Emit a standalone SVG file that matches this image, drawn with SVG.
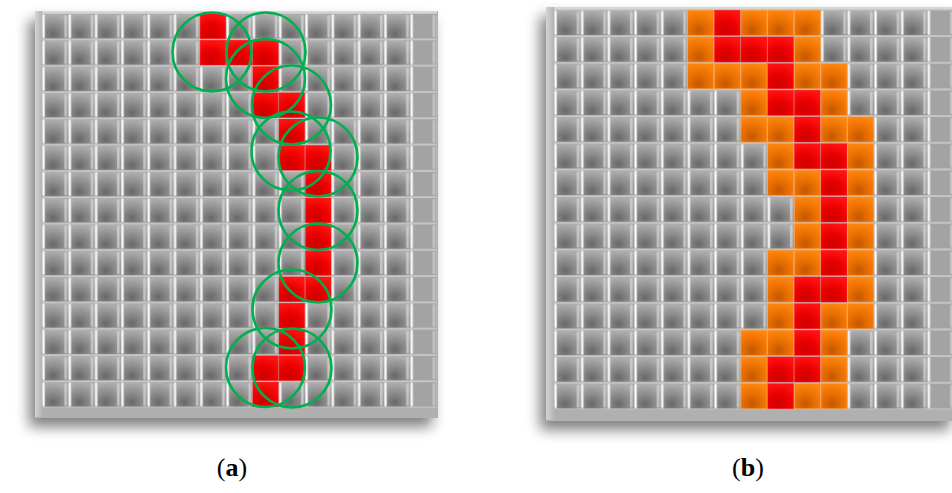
<svg xmlns="http://www.w3.org/2000/svg" xmlns:xlink="http://www.w3.org/1999/xlink" width="952" height="493" viewBox="0 0 952 493">
<style>
.lbl{font-family:"Liberation Serif","DejaVu Serif",serif;font-size:26px;fill:#000;text-anchor:middle}
.circ{fill:none;stroke:#00b050;stroke-width:2.6}
.rc{fill:url(#gRed);stroke:#ff4a4a;stroke-width:2;stroke-opacity:.5}
.oc{fill:url(#gOr);stroke:#ffa656;stroke-width:3;stroke-opacity:.8}
</style>
<defs>
<radialGradient id="face" cx="0.42" cy="0.82" r="0.78">
<stop offset="0" stop-color="#686868"/><stop offset="0.45" stop-color="#888888"/><stop offset="1" stop-color="#acacac"/>
</radialGradient>
<linearGradient id="hl" x1="0" y1="0" x2="1" y2="0">
<stop offset="0" stop-color="#e6e6e6"/><stop offset="0.45" stop-color="#ffffff"/><stop offset="1" stop-color="#bdbdbd"/>
</linearGradient>
<radialGradient id="gRed" cx="0.42" cy="0.8" r="0.8">
<stop offset="0" stop-color="#cf0000"/><stop offset="0.5" stop-color="#ea0000"/><stop offset="1" stop-color="#ff1212"/>
</radialGradient>
<radialGradient id="gOr" cx="0.42" cy="0.8" r="0.8">
<stop offset="0" stop-color="#c45800"/><stop offset="0.5" stop-color="#ea6f00"/><stop offset="1" stop-color="#ff8510"/>
</radialGradient>
<linearGradient id="sideL" x1="0" y1="0" x2="1" y2="0">
<stop offset="0" stop-color="#d4d4d4"/><stop offset="1" stop-color="#b0b0b0"/>
</linearGradient>
<pattern id="patA" patternUnits="userSpaceOnUse" width="100" height="100" patternTransform="translate(42 13) scale(0.263)">
<rect width="100" height="100" fill="#c8c8c8"/>
<rect x="0" y="4" width="100" height="93" fill="url(#face)"/>
<rect x="85" y="7" width="10" height="87" rx="5" fill="#d2d2d2" opacity="0.75"/>
<rect x="1" y="5" width="11" height="91" rx="5.5" fill="url(#hl)"/>
</pattern>
<pattern id="patB" xlink:href="#patA" href="#patA" patternTransform="translate(554 9.33) scale(0.26667)"/>
<pattern id="flatA" patternUnits="userSpaceOnUse" width="100" height="100" patternTransform="translate(42 13) scale(0.263)">
<rect width="100" height="100" fill="#c8c8c8"/>
<rect x="0" y="4" width="100" height="93" fill="#a3a3a3"/>
<rect x="85" y="7" width="10" height="87" rx="5" fill="#cfcfcf" opacity="0.75"/>
<rect x="1" y="5" width="11" height="91" rx="5.5" fill="url(#hl)"/>
</pattern>
<pattern id="flatB" xlink:href="#flatA" href="#flatA" patternTransform="translate(554 9.33) scale(0.26667)"/>
<filter id="sh" x="-10%" y="-10%" width="125%" height="130%">
<feGaussianBlur in="SourceAlpha" stdDeviation="7"/>
<feOffset dx="-6" dy="9" result="b"/>
<feComponentTransfer><feFuncA type="linear" slope="0.5"/></feComponentTransfer>
<feMerge><feMergeNode/><feMergeNode in="SourceGraphic"/></feMerge>
</filter>
<rect id="r" x="1" y="3" width="98" height="95" class="rc"/>
<rect id="o" x="1" y="3" width="98" height="95" class="oc"/>
</defs>
<rect width="952" height="493" fill="#ffffff"/>

<g id="panel-a">
<rect x="35" y="11" width="403" height="407" fill="#b0b0b0" filter="url(#sh)"/>
<rect x="35" y="11" width="8" height="406" fill="url(#sideL)"/>
<rect x="42" y="11" width="395" height="3" fill="#d6d6d6"/>
<rect x="42" y="13" width="394.5" height="394.5" fill="url(#patA)"/>
<rect x="410.2" y="13" width="26.3" height="394.5" fill="url(#flatA)"/>
<g id="red-a" transform="translate(42 13) scale(0.263)">
<use href="#r" x="600" y="0"/><use href="#r" x="600" y="100"/><use href="#r" x="700" y="100"/>
<use href="#r" x="800" y="100"/><use href="#r" x="800" y="200"/><use href="#r" x="800" y="300"/>
<use href="#r" x="900" y="300"/><use href="#r" x="900" y="400"/><use href="#r" x="900" y="500"/>
<use href="#r" x="1000" y="500"/><use href="#r" x="1000" y="600"/><use href="#r" x="1000" y="700"/>
<use href="#r" x="1000" y="800"/><use href="#r" x="1000" y="900"/><use href="#r" x="1000" y="1000"/>
<use href="#r" x="900" y="1000"/><use href="#r" x="900" y="1100"/><use href="#r" x="900" y="1200"/>
<use href="#r" x="900" y="1300"/><use href="#r" x="800" y="1300"/><use href="#r" x="800" y="1400"/>
</g>
<g id="circles">
<circle class="circ" cx="212" cy="52" r="39.5"/>
<circle class="circ" cx="266" cy="52" r="39.5"/>
<circle class="circ" cx="265.5" cy="78.5" r="39.5"/>
<circle class="circ" cx="291.5" cy="105" r="39.5"/>
<circle class="circ" cx="291" cy="151" r="39.5"/>
<circle class="circ" cx="318" cy="157" r="39.5"/>
<circle class="circ" cx="318" cy="210.5" r="39.5"/>
<circle class="circ" cx="318" cy="263" r="39.5"/>
<circle class="circ" cx="292" cy="309" r="39.5"/>
<circle class="circ" cx="265.5" cy="367.5" r="39.5"/>
<circle class="circ" cx="292" cy="368" r="39.5"/>
</g>
</g>

<g id="panel-b">
<rect x="546" y="7" width="410" height="414" fill="#b0b0b0" filter="url(#sh)"/>
<rect x="546" y="7" width="9" height="413" fill="url(#sideL)"/>
<rect x="554" y="7" width="400" height="3" fill="#d6d6d6"/>
<rect x="554" y="9.33" width="400" height="400" fill="url(#patB)"/>
<rect x="927.4" y="9.33" width="26.67" height="400" fill="url(#flatB)"/>
<g id="cells-b" transform="translate(554 9.33) scale(0.26667)">
<use href="#o" x="500" y="0"/><use href="#r" x="600" y="0"/><use href="#o" x="700" y="0"/><use href="#o" x="800" y="0"/><use href="#o" x="900" y="0"/>
<use href="#o" x="500" y="100"/><use href="#r" x="600" y="100"/><use href="#r" x="700" y="100"/><use href="#r" x="800" y="100"/><use href="#o" x="900" y="100"/>
<use href="#o" x="500" y="200"/><use href="#o" x="600" y="200"/><use href="#o" x="700" y="200"/><use href="#r" x="800" y="200"/><use href="#o" x="900" y="200"/><use href="#o" x="1000" y="200"/>
<use href="#o" x="700" y="300"/><use href="#r" x="800" y="300"/><use href="#r" x="900" y="300"/><use href="#o" x="1000" y="300"/>
<use href="#o" x="700" y="400"/><use href="#o" x="800" y="400"/><use href="#r" x="900" y="400"/><use href="#o" x="1000" y="400"/><use href="#o" x="1100" y="400"/>
<use href="#o" x="800" y="500"/><use href="#r" x="900" y="500"/><use href="#r" x="1000" y="500"/><use href="#o" x="1100" y="500"/>
<use href="#o" x="800" y="600"/><use href="#o" x="900" y="600"/><use href="#r" x="1000" y="600"/><use href="#o" x="1100" y="600"/>
<use href="#o" x="900" y="700"/><use href="#r" x="1000" y="700"/><use href="#o" x="1100" y="700"/>
<use href="#o" x="900" y="800"/><use href="#r" x="1000" y="800"/><use href="#o" x="1100" y="800"/>
<use href="#o" x="800" y="900"/><use href="#o" x="900" y="900"/><use href="#r" x="1000" y="900"/><use href="#o" x="1100" y="900"/>
<use href="#o" x="800" y="1000"/><use href="#r" x="900" y="1000"/><use href="#r" x="1000" y="1000"/><use href="#o" x="1100" y="1000"/>
<use href="#o" x="800" y="1100"/><use href="#r" x="900" y="1100"/><use href="#o" x="1000" y="1100"/><use href="#o" x="1100" y="1100"/>
<use href="#o" x="700" y="1200"/><use href="#o" x="800" y="1200"/><use href="#r" x="900" y="1200"/><use href="#o" x="1000" y="1200"/>
<use href="#o" x="700" y="1300"/><use href="#r" x="800" y="1300"/><use href="#r" x="900" y="1300"/><use href="#o" x="1000" y="1300"/>
<use href="#o" x="700" y="1400"/><use href="#r" x="800" y="1400"/><use href="#o" x="900" y="1400"/><use href="#o" x="1000" y="1400"/>
</g>
</g>

<g id="labels">
<text class="lbl" x="232" y="476">(<tspan font-weight="bold">a</tspan>)</text>
<text class="lbl" x="748" y="476">(<tspan font-weight="bold">b</tspan>)</text>
</g>
</svg>
